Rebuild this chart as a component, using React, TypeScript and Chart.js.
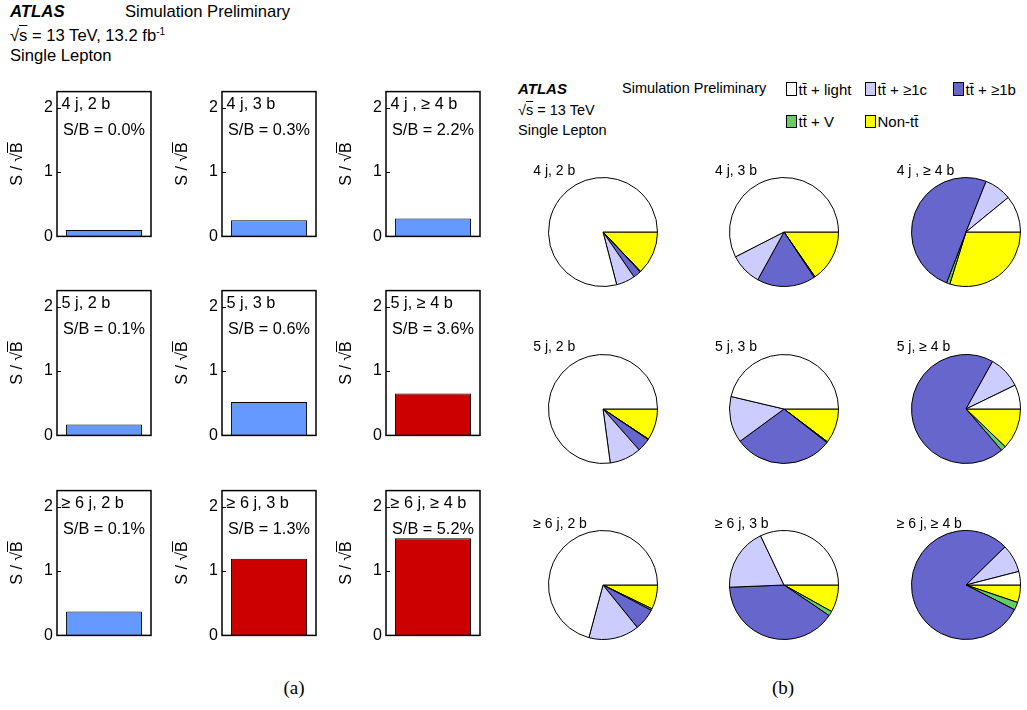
import React, { useEffect, useRef } from "react";
import { Chart, registerables } from "chart.js";

Chart.register(...registerables);

const SANS = "'Liberation Sans', Arial, Helvetica, sans-serif";
const SERIF = "'Liberation Serif', 'Times New Roman', serif";

// ---- data: analysis regions (row-major 3x3 grid) ----
const regions = [
  "4 j, 2 b", "4 j, 3 b", "4 j , ≥ 4 b",
  "5 j, 2 b", "5 j, 3 b", "5 j, ≥ 4 b",
  "≥ 6 j, 2 b", "≥ 6 j, 3 b", "≥ 6 j, ≥ 4 b",
];
const sOverB = ["0.0%", "0.3%", "2.2%", "0.1%", "0.6%", "3.6%", "0.1%", "1.3%", "5.2%"];
const sOverSqrtB = [0.1, 0.25, 0.28, 0.17, 0.52, 0.65, 0.37, 1.19, 1.51];
const signalRich = [false, false, false, false, false, true, false, true, true];
const yTicks = [0, 1, 2];
const yMax = 2.25;

// ---- data: background composition (%) per region ----
const components = ["Non-tt\u0304", "tt\u0304 + V", "tt\u0304 + ≥1b", "tt\u0304 + ≥1c", "tt\u0304 + light"];
const fracNonTt = [12.9, 15.4, 29.8, 9.3, 10.3, 12.2, 7.2, 8.1, 5.2];
const fracTtV = [0.2, 0.3, 1.0, 0.2, 0.3, 1.5, 0.5, 1.4, 2.3];
const fracTt1b = [2.3, 17.4, 50.2, 4.0, 29.4, 69.5, 6.5, 39.9, 80.2];
const fracTt1c = [5.6, 9.5, 8.1, 9.4, 13.8, 9.7, 15.0, 18.6, 8.3];
const fracTtLight = [79.2, 57.7, 10.9, 77.2, 46.4, 7.2, 70.9, 32.1, 4.0];
const componentColors = ["#ffff00", "#66cc66", "#6666cc", "#ccccff", "#ffffff"];

// ---- layout ----
const FRAME_X = [57, 222, 386];
const FRAME_Y = [90, 289, 489];
const FRAME_W = 94;
const FRAME_H = 148;
const AXW = 22;
const PADV = 12;
const PADR = 4;

const PIE_CX = [602.6, 784.3, 966];
const PIE_CY = [232, 408.5, 585];
const PIE_SIZE = 110;

function T(props: {
  x: number; base: number; size: number; children: any;
  weight?: any; italic?: boolean; family?: string; center?: boolean;
}) {
  const { x, base, size, children, weight, italic, family, center } = props;
  const fam = family || SANS;
  const asc = fam === SERIF ? 0.8375 : 0.8465;
  return (
    <div
      style={{
        position: "absolute",
        left: x,
        top: base - asc * size,
        fontSize: size,
        lineHeight: 1,
        fontFamily: fam,
        fontWeight: weight || "normal",
        fontStyle: italic ? "italic" : "normal",
        whiteSpace: "nowrap",
        color: "#000",
        transform: center ? "translateX(-50%)" : undefined,
      }}
    >
      {children}
    </div>
  );
}

const framePlugin = {
  id: "frame",
  afterDraw(chart: any) {
    const { ctx, chartArea: a, scales } = chart;
    const y = scales.y;
    ctx.save();
    ctx.strokeStyle = "#000";
    ctx.lineWidth = 1.5;
    ctx.strokeRect(a.left, a.top, a.right - a.left, a.bottom - a.top);
    ctx.lineWidth = 1;
    yTicks.forEach((v) => {
      const py = Math.round(y.getPixelForValue(v)) + 0.5;
      ctx.beginPath();
      ctx.moveTo(a.left, py);
      ctx.lineTo(a.left + 4, py);
      ctx.stroke();
    });
    ctx.restore();
  },
};

function BarPanel({ idx }: { idx: number }) {
  const ref = useRef<HTMLCanvasElement>(null);
  const col = idx % 3;
  const row = Math.floor(idx / 3);
  const fx = FRAME_X[col];
  const fy = FRAME_Y[row];
  const W = AXW + FRAME_W + PADR;
  const H = FRAME_H + 2 * PADV;

  useEffect(() => {
    const chart = new Chart(ref.current as HTMLCanvasElement, {
      type: "bar",
      data: {
        labels: [regions[idx]],
        datasets: [
          {
            data: [sOverSqrtB[idx]],
            backgroundColor: signalRich[idx] ? "#cc0000" : "#6699ff",
            borderColor: "#000",
            borderWidth: 1,
            barPercentage: 0.81,
            categoryPercentage: 1,
          },
        ],
      },
      options: {
        animation: false,
        responsive: false,
        maintainAspectRatio: false,
        layout: { padding: { left: 0, right: PADR, top: PADV, bottom: PADV } },
        plugins: { legend: { display: false }, tooltip: { enabled: false } },
        scales: {
          x: { display: false },
          y: {
            min: 0,
            max: yMax,
            afterBuildTicks: (s: any) => {
              s.ticks = yTicks.map((v) => ({ value: v }));
            },
            afterFit: (s: any) => {
              s.width = AXW;
            },
            grid: { display: false, drawTicks: false },
            border: { display: false },
            ticks: {
              padding: 4,
              color: "#000",
              font: { family: SANS, size: 16 },
            },
          },
        },
      } as any,
      plugins: [framePlugin],
    });
    return () => chart.destroy();
  }, [idx]);

  return (
    <>
      <canvas
        ref={ref}
        width={W}
        height={H}
        style={{ position: "absolute", left: fx - AXW, top: fy - PADV, width: W, height: H }}
      />
      <T x={fx + 4.5} base={fy + 19} size={16.3}>{regions[idx]}</T>
      <T x={fx + 6} base={fy + 44.5} size={16.3}>{"S/B = " + sOverB[idx]}</T>
      <div
        style={{
          position: "absolute",
          left: fx - 40.5,
          top: fy + 74,
          transform: "translate(-50%, -50%) rotate(-90deg)",
          fontFamily: SANS,
          fontSize: 16,
          lineHeight: 1,
          whiteSpace: "nowrap",
        }}
      >
        S / √<span style={{ textDecoration: "overline" }}>B</span>
      </div>
    </>
  );
}

function PiePanel({ idx }: { idx: number }) {
  const ref = useRef<HTMLCanvasElement>(null);
  const col = idx % 3;
  const row = Math.floor(idx / 3);
  const cx = PIE_CX[col];
  const cy = PIE_CY[row];

  useEffect(() => {
    const chart = new Chart(ref.current as HTMLCanvasElement, {
      type: "pie",
      data: {
        labels: components,
        datasets: [
          {
            data: [fracNonTt[idx], fracTtV[idx], fracTt1b[idx], fracTt1c[idx], fracTtLight[idx]],
            backgroundColor: componentColors,
            borderColor: "#000",
            borderWidth: 1,
            hoverOffset: 0,
            offset: 0,
          },
        ],
      },
      options: {
        animation: false,
        responsive: false,
        maintainAspectRatio: false,
        rotation: 90,
        layout: { padding: 0 },
        plugins: { legend: { display: false }, tooltip: { enabled: false } },
      } as any,
    });
    return () => chart.destroy();
  }, [idx]);

  return (
    <>
      <canvas
        ref={ref}
        width={PIE_SIZE}
        height={PIE_SIZE}
        style={{
          position: "absolute",
          left: cx - PIE_SIZE / 2,
          top: cy - PIE_SIZE / 2,
          width: PIE_SIZE,
          height: PIE_SIZE,
        }}
      />
      <T x={cx - 69.3} base={cy - 57.5} size={14}>{regions[idx]}</T>
    </>
  );
}

const legendItems = [
  { label: "tt\u0304 + light", color: "#ffffff", x: 786, y: 82 },
  { label: "tt\u0304 + ≥1c", color: "#ccccff", x: 865, y: 82 },
  { label: "tt\u0304 + ≥1b", color: "#6666cc", x: 953, y: 82 },
  { label: "tt\u0304 + V", color: "#66cc66", x: 786, y: 114.5 },
  { label: "Non-tt\u0304", color: "#ffff00", x: 865, y: 114.5 },
];

export default function App() {
  const idxs = [0, 1, 2, 3, 4, 5, 6, 7, 8];
  return (
    <div
      style={{
        position: "absolute",
        left: 0,
        top: 0,
        width: 1027,
        height: 710,
        background: "#fff",
        overflow: "hidden",
        fontFamily: SANS,
      }}
    >
      {/* left header */}
      <T x={10} base={18.5} size={16.8} weight="bold" italic>ATLAS</T>
      <T x={125} base={18.5} size={16.6}>Simulation Preliminary</T>
      <T x={10} base={41} size={16.6}>
        √<span style={{ textDecoration: "overline" }}>s</span> = 13 TeV, 13.2 fb
        <span style={{ fontSize: 10, verticalAlign: "6px" }}>-1</span>
      </T>
      <T x={10} base={62.5} size={16.6}>Single Lepton</T>

      {idxs.map((i) => (
        <BarPanel key={"b" + i} idx={i} />
      ))}

      {/* right header */}
      <T x={518} base={93.5} size={15} weight="bold" italic>ATLAS</T>
      <T x={622} base={93.5} size={14.5}>Simulation Preliminary</T>
      <T x={518} base={115.5} size={14.5}>
        √<span style={{ textDecoration: "overline" }}>s</span> = 13 TeV
      </T>
      <T x={518} base={135.5} size={14.5}>Single Lepton</T>

      {legendItems.map((it) => (
        <React.Fragment key={it.label}>
          <div
            style={{
              position: "absolute",
              left: it.x,
              top: it.y,
              width: 11,
              height: 13.5,
              boxSizing: "border-box",
              border: "1px solid #000",
              background: it.color,
            }}
          />
          <T x={it.x + 12.5} base={it.y + 12.5} size={15}>{it.label}</T>
        </React.Fragment>
      ))}

      {idxs.map((i) => (
        <PiePanel key={"p" + i} idx={i} />
      ))}

      <T x={294} base={694} size={19} family={SERIF} center>(a)</T>
      <T x={783} base={694} size={19} family={SERIF} center>(b)</T>
    </div>
  );
}
